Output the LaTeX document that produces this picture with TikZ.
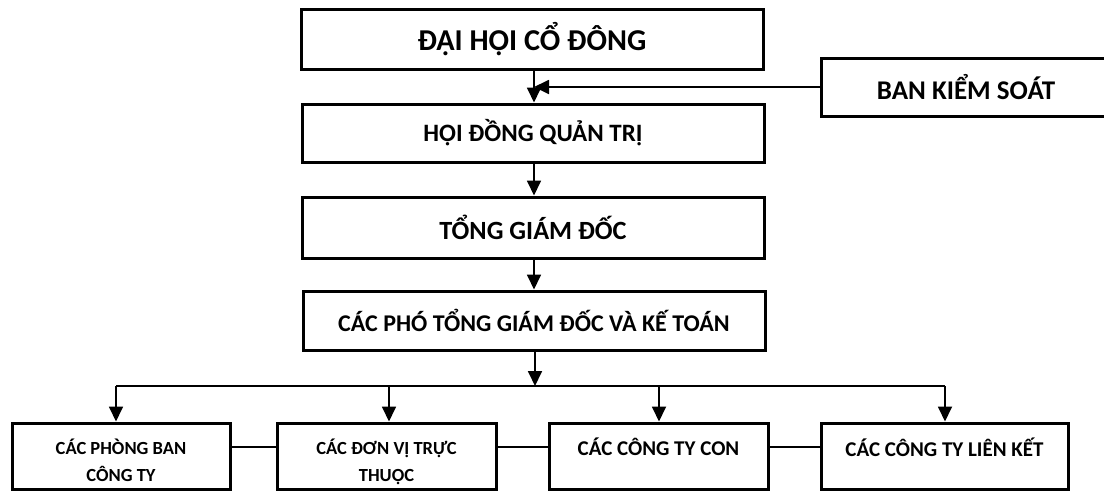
\documentclass[tikz,border=0pt]{standalone}
\usepackage{fontspec}
\setmainfont{Carlito}
\usetikzlibrary{arrows.meta}
\tikzset{
  mainbox/.style={draw, line width=3pt, minimum width=462pt, inner sep=0pt, font=\bfseries},
  sidebox/.style={draw, line width=3pt, minimum width=290pt, minimum height=58pt, inner sep=0pt},
  unitbox/.style={draw, line width=3pt, minimum height=66pt, inner sep=0pt},
  unittext/.style={font=\fontsize{18.5}{27}\selectfont\bfseries, align=center, inner sep=0pt},
  bigunittext/.style={font=\fontsize{21}{27}\selectfont\bfseries, align=center, inner sep=0pt},
  link/.style={line width=1.8pt},
  arr/.style={line width=1.8pt, -{Triangle[length=15pt,width=14pt]}}
}
\begin{document}
\begin{tikzpicture}[x=1pt,y=-1pt]
\path[use as bounding box] (0,0) rectangle (1104,491);
\fill[white] (0,0) rectangle (1104,491);
\clip (0,0) rectangle (1104,491);

\node[mainbox, minimum height=60pt, font=\fontsize{30.3}{34}\selectfont\bfseries] (dhcd) at (532,39) {ĐẠI HỘI CỔ ĐÔNG};
\node[mainbox, minimum height=58pt, font=\fontsize{25}{30}\selectfont\bfseries] (hdqt) at (533,133) {HỘI ĐỒNG QUẢN TRỊ};
\node[mainbox, minimum height=61pt, font=\fontsize{26.3}{30}\selectfont\bfseries] (tgd) at (533,227.5) {TỔNG GIÁM ĐỐC};
\node[mainbox, minimum height=59pt, font=\fontsize{24}{28}\selectfont\bfseries] (ptgd) at (534,320.5) {CÁC PHÓ TỔNG GIÁM ĐỐC VÀ KẾ TOÁN};
\node[sidebox, font=\fontsize{27}{30}\selectfont\bfseries] (bks) at (966,87) {BAN KIỂM SOÁT};

\node[unitbox, minimum width=218pt] (b1) at (121,456) {};
\node[unitbox, minimum width=219pt] (b2) at (386.5,456) {};
\node[unitbox, minimum width=219pt] (b3) at (658.5,456) {};
\node[unitbox, minimum width=247pt] (b4) at (944.5,456) {};

\node[unittext, anchor=north] (b1t) at (121,439) {CÁC PHÒNG BAN\\CÔNG TY};
\node[unittext, anchor=north] (b2t) at (386.5,439) {CÁC ĐƠN VỊ TRỰC\\THUỘC};
\node[bigunittext, anchor=north] (b3t) at (658.5,438) {CÁC CÔNG TY CON};
\node[bigunittext, anchor=north] (b4t) at (944.5,438) {CÁC CÔNG TY LIÊN KẾT};

\coordinate (j1) at (534,87);
\coordinate (hub) at (535,386);
\coordinate (h1) at (116,386);
\coordinate (h2) at (389,386);
\coordinate (h3) at (659,386);
\coordinate (h4) at (945,386);

\draw[arr] (dhcd.south -| j1) -- (hdqt.north -| j1);
\draw[arr] (bks.west) -- (j1);
\draw[arr] (hdqt.south -| j1) -- (tgd.north -| j1);
\draw[arr] (tgd.south -| j1) -- (ptgd.north -| j1);
\draw[arr] (ptgd.south -| hub) -- (hub);
\draw[link] (h1) -- (h4);
\draw[arr] (h1) -- (b1.north -| h1);
\draw[arr] (h2) -- (b2.north -| h2);
\draw[arr] (h3) -- (b3.north -| h3);
\draw[arr] (h4) -- (b4.north -| h4);

\draw[link] ([yshift=9pt]b1.east) -- ([yshift=9pt]b2.west);
\draw[link] ([yshift=9pt]b2.east) -- ([yshift=9pt]b3.west);
\draw[link] ([yshift=9pt]b3.east) -- ([yshift=9pt]b4.west);
\end{tikzpicture}
\end{document}
